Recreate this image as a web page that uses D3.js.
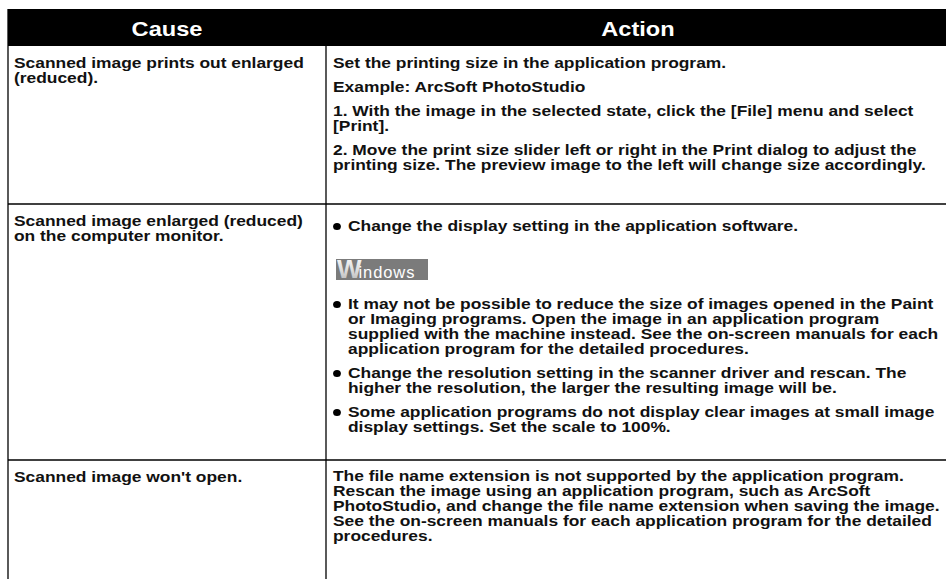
<!DOCTYPE html>
<html><head><meta charset="utf-8">
<script src="https://cdn.jsdelivr.net/npm/d3@7"></script>
<style>html,body{margin:0;padding:0;background:#fff;overflow:hidden}</style>
</head><body><svg id="c" width="946" height="579"></svg>
<script>
// ---- table content ----
const headers = ["Cause", "Action"];

const causes = [
  ["Scanned image prints out enlarged", "(reduced)."],
  ["Scanned image enlarged (reduced)", "on the computer monitor."],
  ["Scanned image won't open."]
];

const actionsRow1 = [
  {type: "p", lines: ["Set the printing size in the application program."]},
  {type: "p", lines: ["Example: ArcSoft PhotoStudio"]},
  {type: "p", lines: ["1. With the image in the selected state, click the [File] menu and select", "[Print]."]},
  {type: "p", lines: ["2. Move the print size slider left or right in the Print dialog to adjust the", "printing size. The preview image to the left will change size accordingly."]}
];

const actionsRow2 = [
  {type: "bullet", lines: ["Change the display setting in the application software."]},
  {type: "badge", label: ["W", "indows"]},
  {type: "bullet", lines: ["It may not be possible to reduce the size of images opened in the Paint", "or Imaging programs. Open the image in an application program", "supplied with the machine instead. See the on-screen manuals for each", "application program for the detailed procedures."]},
  {type: "bullet", lines: ["Change the resolution setting in the scanner driver and rescan. The", "higher the resolution, the larger the resulting image will be."]},
  {type: "bullet", lines: ["Some application programs do not display clear images at small image", "display settings. Set the scale to 100%."]}
];

const actionsRow3 = [
  {type: "p", lines: ["The file name extension is not supported by the application program.", "Rescan the image using an application program, such as ArcSoft", "PhotoStudio, and change the file name extension when saving the image.", "See the on-screen manuals for each application program for the detailed", "procedures."]}
];

const actions = [actionsRow1, actionsRow2, actionsRow3];

// ---- layout ----
const W = 946, H = 579;
const FONT = "'Liberation Sans', Arial, Helvetica, sans-serif";
const BODY = 14.5, SX = 1.2;       // page is stretched horizontally
const HEAD = 20, HSX = 1.18;
const LH = 15, PSTEP = 24;
const tableTop = 9, headH = 37;
const colX = d3.scaleOrdinal().domain(["left", "mid", "right"]).range([8, 326, 956]);
const rowStartOffset = [22, 27, 21];
const causeOffset = 22;
const bottomPad = [34, 28, 30];

const svg = d3.select("#c");
const defs = svg.append("defs");
const grad = defs.append("linearGradient").attr("id", "wg").attr("x1", 0).attr("y1", 0).attr("x2", 0).attr("y2", 1);
grad.append("stop").attr("offset", "0").attr("stop-color", "#ffffff");
grad.append("stop").attr("offset", "0.55").attr("stop-color", "#dcdcdc");
grad.append("stop").attr("offset", "1").attr("stop-color", "#b0b0b0");

function txt(parent, x, y, s, opts) {
  const o = Object.assign({size: BODY, sx: SX, weight: "bold", fill: "#111", anchor: "start"}, opts || {});
  return parent.append("text")
    .attr("transform", `translate(${x},${y}) scale(${o.sx},1)`)
    .attr("text-anchor", o.anchor)
    .attr("font-family", FONT).attr("font-weight", o.weight).attr("font-size", o.size)
    .attr("fill", o.fill).text(s);
}

// header
svg.append("rect").attr("x", colX("left")).attr("y", tableTop)
  .attr("width", colX("right") - colX("left")).attr("height", headH).attr("fill", "#000");
const headCenters = [(colX("left") + colX("mid")) / 2, (colX("mid") + colX("right")) / 2 - 3];
headers.forEach((h, i) => txt(svg, headCenters[i], tableTop + 27, h, {size: HEAD, sx: HSX, fill: "#fff", anchor: "middle"}));

const g = svg.append("g");
let rowTop = tableTop + headH;
const rowLines = [];
actions.forEach((blocks, r) => {
  causes[r].forEach((line, k) => txt(g, colX("left") + 6, rowTop + causeOffset + k * LH, line));
  let y = rowTop + rowStartOffset[r];
  let last = y;
  blocks.forEach(b => {
    if (b.type === "badge") {
      const top = y + 4;
      const bx = colX("mid") + 10;
      g.append("rect").attr("x", bx).attr("y", top).attr("width", 92).attr("height", 21).attr("fill", "#7b7b7b");
      const t = g.append("text").attr("x", bx + 1).attr("y", top + 19)
        .attr("font-family", FONT);
      t.append("tspan").attr("font-weight", "bold").attr("font-size", 26)
        .attr("letter-spacing", -2).attr("fill", "url(#wg)").text(b.label[0]);
      t.append("tspan").attr("font-size", 16.5).attr("dx", -1)
        .attr("letter-spacing", 0.9).attr("fill", "#fff").text(b.label[1]);
      y = top + 21 + 29;
      return;
    }
    const tx = b.type === "bullet" ? colX("mid") + 22 : colX("mid") + 7;
    if (b.type === "bullet") {
      g.append("ellipse").attr("cx", colX("mid") + 11).attr("cy", y - 4.5).attr("rx", 3.9).attr("ry", 3.6).attr("fill", "#000");
    }
    b.lines.forEach((line, k) => {
      txt(g, tx, y + k * LH, line);
      last = y + k * LH;
    });
    y = last + PSTEP;
  });
  const rowBottom = last + bottomPad[r];
  rowLines.push(rowBottom);
  rowTop = rowBottom;
});

// grid lines
const lineStyle = sel => sel.attr("stroke", "#000").attr("stroke-width", 1.3);
svg.append("line").attr("x1", colX("left")).attr("x2", colX("left")).attr("y1", tableTop).attr("y2", H + 5).call(lineStyle);
svg.append("line").attr("x1", colX("mid")).attr("x2", colX("mid")).attr("y1", tableTop + headH).attr("y2", H + 5).call(lineStyle);
svg.selectAll("line.row").data(rowLines.slice(0, 2)).join("line").attr("class", "row")
  .attr("x1", colX("left")).attr("x2", colX("right")).attr("y1", d => d).attr("y2", d => d).call(lineStyle);
</script></body></html>
